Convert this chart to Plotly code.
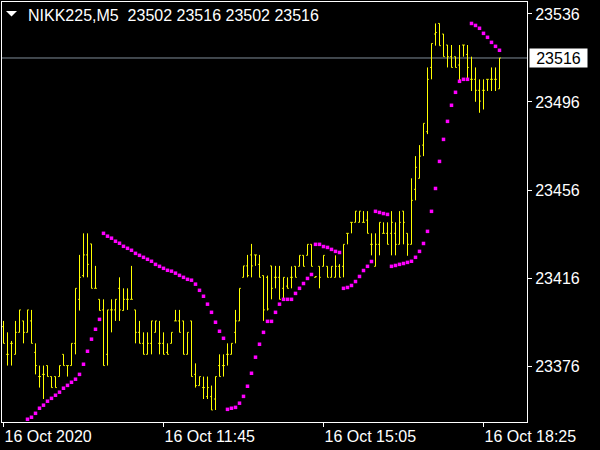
import plotly.graph_objects as go

# ---------------- data ----------------
symbol = "NIKK225,M5"
header_ohlc = [23502, 23516, 23502, 23516]
last_price = 23516

x_tick_vals = [0, 40, 80, 120]
x_tick_text = ["16 Oct 2020", "16 Oct 11:45", "16 Oct 15:05", "16 Oct 18:25"]
y_tick_vals = [23376, 23416, 23456, 23496, 23536]

bar_open = [
    23393.9, 23381.3, 23386.3, 23381.3, 23391.3, 23396.5, 23391.3, 23396.5, 23382.2, 23371.2,
    23372.2, 23376.2, 23371.2, 23371.2, 23371.2, 23381.3, 23376.2, 23376.2, 23386.3, 23406.3,
    23417.1, 23426.5, 23431.5, 23411.3, 23406.3, 23401.5, 23381.3, 23401.5, 23401.5, 23411.3,
    23401.2, 23406.3, 23406.3, 23401.5, 23391.3, 23386.3, 23381.3, 23386.3, 23391.3, 23386.3,
    23386.3, 23382.2, 23386.3, 23396.5, 23396.5, 23396.5, 23381.3, 23396.5, 23372.2, 23367.1,
    23366.2, 23362.1, 23362.1, 23361.0, 23376.2, 23376.2, 23381.3, 23381.3, 23391.3, 23396.5,
    23416.3, 23421.5, 23426.5, 23426.5, 23422.2, 23417.1, 23416.3, 23421.5, 23416.3, 23416.3,
    23411.3, 23412.3, 23416.3, 23421.3, 23421.3, 23426.3, 23426.3, 23431.3, 23416.3, 23421.3,
    23421.3, 23421.3, 23416.3, 23416.3, 23421.3, 23421.3, 23436.3, 23441.3, 23441.3, 23441.3,
    23441.3, 23442.3, 23431.3, 23421.3, 23431.3, 23436.3, 23436.3, 23436.3, 23436.3, 23431.3,
    23446.4, 23436.3, 23431.3, 23456.3, 23461.3, 23476.4, 23482.5, 23511.7, 23526.9, 23531.7,
    23526.9, 23521.9, 23516.6, 23516.6, 23512.8, 23521.9, 23517.6, 23506.3, 23506.3, 23501.3,
    23501.3, 23506.3, 23506.3, 23506.3, 23502.0,
]
bar_high = [
    23396.5, 23391.3, 23387.4, 23396.5, 23401.5, 23396.5, 23401.5, 23401.5, 23386.3, 23376.2,
    23376.2, 23376.2, 23371.2, 23371.2, 23376.2, 23381.3, 23376.2, 23386.3, 23411.3, 23426.5,
    23436.3, 23436.3, 23431.5, 23421.5, 23406.3, 23406.3, 23401.5, 23406.3, 23406.3, 23416.3,
    23411.3, 23411.3, 23421.5, 23401.5, 23396.5, 23391.3, 23391.3, 23396.5, 23396.5, 23396.5,
    23391.3, 23386.3, 23391.3, 23401.5, 23401.5, 23396.5, 23391.3, 23396.5, 23377.2, 23371.2,
    23371.2, 23371.2, 23367.1, 23371.2, 23381.3, 23381.3, 23386.3, 23386.3, 23401.5, 23411.3,
    23421.5, 23426.5, 23431.5, 23426.5, 23426.5, 23417.1, 23417.1, 23421.5, 23421.5, 23421.5,
    23416.3, 23416.3, 23421.3, 23421.3, 23426.3, 23426.3, 23431.3, 23431.3, 23416.8, 23421.3,
    23426.3, 23421.3, 23421.3, 23426.3, 23422.3, 23431.3, 23436.3, 23441.3, 23446.4, 23446.4,
    23446.4, 23446.4, 23436.3, 23436.3, 23441.3, 23441.3, 23441.3, 23446.4, 23441.3, 23446.4,
    23446.4, 23436.3, 23461.3, 23471.4, 23476.4, 23486.3, 23511.7, 23522.6, 23531.7, 23531.7,
    23526.9, 23521.9, 23521.9, 23516.6, 23521.9, 23521.9, 23521.9, 23516.6, 23511.7, 23506.3,
    23506.3, 23506.3, 23511.7, 23511.7, 23516.0,
]
bar_low = [
    23386.3, 23376.2, 23376.2, 23381.3, 23391.3, 23386.3, 23391.3, 23386.3, 23372.2, 23366.2,
    23361.0, 23371.2, 23366.2, 23366.2, 23371.2, 23376.2, 23371.2, 23376.2, 23381.3, 23401.2,
    23416.3, 23416.3, 23411.3, 23411.3, 23401.2, 23376.2, 23376.2, 23391.3, 23396.5, 23396.5,
    23401.2, 23401.5, 23406.3, 23386.3, 23386.3, 23381.3, 23381.3, 23381.3, 23391.3, 23381.3,
    23381.3, 23381.3, 23386.3, 23396.5, 23391.3, 23381.3, 23381.3, 23371.2, 23366.2, 23367.1,
    23361.0, 23361.0, 23356.0, 23356.0, 23371.2, 23371.2, 23376.2, 23381.3, 23386.3, 23396.5,
    23416.3, 23416.3, 23416.3, 23421.5, 23416.3, 23396.5, 23401.2, 23406.3, 23411.3, 23406.3,
    23406.3, 23411.3, 23411.3, 23416.3, 23421.3, 23421.3, 23426.3, 23421.3, 23416.3, 23411.3,
    23421.3, 23416.3, 23416.3, 23416.3, 23416.3, 23416.3, 23431.3, 23436.3, 23441.3, 23441.3,
    23441.3, 23436.3, 23426.3, 23421.3, 23426.3, 23436.3, 23431.3, 23426.3, 23426.3, 23431.3,
    23431.3, 23426.1, 23431.3, 23451.3, 23461.3, 23471.4, 23481.4, 23506.3, 23521.6, 23521.6,
    23516.6, 23511.7, 23511.7, 23511.7, 23505.2, 23516.6, 23506.3, 23501.0, 23496.1, 23491.1,
    23492.6, 23501.0, 23501.0, 23501.0, 23502.0,
]
bar_close = [
    23386.3, 23381.3, 23386.3, 23391.3, 23401.5, 23391.3, 23401.5, 23386.3, 23376.2, 23371.2,
    23372.2, 23371.2, 23366.2, 23366.2, 23376.2, 23376.2, 23376.2, 23386.3, 23411.3, 23416.3,
    23426.5, 23422.2, 23411.3, 23411.3, 23401.2, 23376.2, 23401.5, 23401.5, 23406.3, 23401.5,
    23406.3, 23406.3, 23406.3, 23391.3, 23386.3, 23381.3, 23386.3, 23396.5, 23396.5, 23386.3,
    23381.3, 23381.3, 23391.3, 23396.5, 23391.3, 23381.3, 23391.3, 23371.2, 23367.1, 23371.2,
    23366.2, 23366.2, 23356.0, 23371.2, 23371.2, 23376.2, 23381.3, 23386.3, 23396.5, 23411.3,
    23421.5, 23417.1, 23421.5, 23426.5, 23416.3, 23401.5, 23401.9, 23411.3, 23416.3, 23406.3,
    23416.3, 23411.3, 23416.3, 23416.3, 23426.3, 23421.3, 23431.3, 23421.3, 23416.6, 23416.3,
    23426.3, 23416.3, 23421.3, 23421.3, 23416.3, 23431.3, 23436.3, 23441.3, 23446.4, 23446.4,
    23441.3, 23436.3, 23431.3, 23431.3, 23441.3, 23436.3, 23431.3, 23441.3, 23431.3, 23441.3,
    23441.3, 23431.3, 23451.3, 23466.3, 23471.4, 23486.3, 23506.3, 23522.6, 23527.6, 23521.6,
    23516.6, 23516.6, 23511.7, 23511.7, 23506.0, 23521.9, 23511.7, 23506.3, 23501.3, 23496.4,
    23501.3, 23506.3, 23506.3, 23506.3, 23516.0,
]
sar_values = [
    None, None, None, None, None, None, 23351.8, 23352.7, 23354.5, 23356.8,
    23358.2, 23360.0, 23361.3, 23362.7, 23364.1, 23365.9, 23367.2, 23368.6, 23370.0, 23372.2,
    23376.8, 23382.7, 23388.2, 23392.7, 23397.2, 23436.3, 23435.0, 23434.1, 23432.7, 23431.8,
    23430.4, 23429.5, 23428.6, 23427.2, 23426.3, 23425.4, 23424.5, 23423.6, 23422.2, 23421.3,
    23420.4, 23419.5, 23419.1, 23418.2, 23417.2, 23416.3, 23415.4, 23415.0, 23413.2, 23410.4,
    23407.7, 23404.1, 23400.4, 23395.9, 23391.8, 23388.6, 23356.3, 23356.8, 23357.2, 23359.1,
    23362.2, 23366.8, 23372.7, 23380.0, 23385.9, 23391.3, 23396.3, 23396.3, 23400.4, 23404.1,
    23406.3, 23406.3, 23406.3, 23409.0, 23411.3, 23413.5, 23415.8, 23417.6, 23431.3, 23431.3,
    23430.3, 23429.9, 23429.0, 23428.1, 23427.6, 23411.3, 23411.7, 23412.6, 23414.4, 23416.7,
    23419.4, 23421.3, 23423.5, 23446.3, 23445.8, 23445.3, 23444.9, 23421.3, 23421.7, 23422.2,
    23422.6, 23423.1, 23423.6, 23425.4, 23428.1, 23431.7, 23437.2, 23446.3, 23456.7, 23469.0,
    23479.0, 23487.2, 23494.5, 23500.4, 23505.4, 23506.3, 23506.3, 23531.7, 23530.8, 23529.5,
    23527.2, 23525.4, 23523.1, 23521.3, 23519.5,
]
bar_index = list(range(len(bar_open)))

# ---------------- figure ----------------
FONT = "Liberation Sans, Arial, sans-serif"
W, H = 600, 450
ML, MR, MT, MB = 2, 73, 2, 28
PW, PH = W - ML - MR, H - MT - MB
X0 = -0.375  # puts each bar's centre on a pixel centre (4 px per bar)


def px_x(px):
    return (px - ML) / PW


def px_y(py):
    return 1 - (py - MT) / PH


fig = go.Figure()
fig.add_trace(go.Ohlc(
    x=bar_index, open=bar_open, high=bar_high, low=bar_low, close=bar_close,
    increasing=dict(line=dict(color="#ffff00", width=1)),
    decreasing=dict(line=dict(color="#ffff00", width=1)),
    tickwidth=0.33, hoverinfo="skip",
))
fig.add_trace(go.Scatter(
    x=bar_index, y=sar_values, mode="markers",
    marker=dict(color="#ff00ff", size=3.5, symbol="square", line=dict(width=0)),
    hoverinfo="skip",
))

header = symbol + "\u00a0\u00a0" + " ".join(str(v) for v in header_ohlc)

fig.update_layout(
    width=W, height=H,
    margin=dict(l=ML, r=MR, t=MT, b=MB, pad=0),
    paper_bgcolor="#000000", plot_bgcolor="#000000",
    showlegend=False,
    font=dict(family=FONT, size=16, color="#ffffff"),
    xaxis=dict(
        range=[X0, X0 + PW / 4], showgrid=False, zeroline=False,
        showline=True, mirror=True, linecolor="#ffffff", linewidth=1,
        ticks="outside", ticklen=4, tickcolor="#ffffff", tickwidth=1,
        tickvals=x_tick_vals, ticktext=x_tick_text,
        ticklabelposition="outside right",
        tickfont=dict(family=FONT, size=16, color="#ffffff"),
        rangeslider=dict(visible=False), fixedrange=True,
    ),
    yaxis=dict(
        side="right", range=[23350.55, 23541.45], showgrid=False, zeroline=False,
        showline=True, mirror=True, linecolor="#ffffff", linewidth=1,
        ticks="outside", ticklen=4, tickcolor="#ffffff", tickwidth=1,
        tickvals=y_tick_vals, ticktext=[str(v) for v in y_tick_vals],
        tickfont=dict(family=FONT, size=16, color="#ffffff"),
        fixedrange=True,
    ),
    shapes=[
        dict(type="line", xref="paper", yref="y", x0=0, x1=1,
             y0=last_price, y1=last_price, layer="below",
             line=dict(color="#7f8c99", width=1)),
        dict(type="path", xref="paper", yref="paper",
             path=f"M {px_x(6)} {px_y(11)} L {px_x(17)} {px_y(11)} L {px_x(11.5)} {px_y(16.5)} Z",
             fillcolor="#ffffff", line=dict(width=0)),
    ],
    annotations=[
        dict(text=header, xref="paper", yref="paper", x=px_x(25.5), y=px_y(15.5),
             xanchor="left", yanchor="middle", showarrow=False,
             font=dict(family=FONT, size=16, color="#ffffff")),
        dict(text=str(last_price), xref="paper", yref="y", x=px_x(529), y=last_price,
             xanchor="left", yanchor="middle", showarrow=False,
             bgcolor="#ffffff", width=55, height=16, borderpad=1, align="center",
             font=dict(family=FONT, size=16, color="#000000")),
    ],
)

fig.write_html(
    "out.html",
    config={"displayModeBar": False, "staticPlot": True},
    post_script="document.body.style.margin='0px';document.body.style.overflow='hidden';",
)
